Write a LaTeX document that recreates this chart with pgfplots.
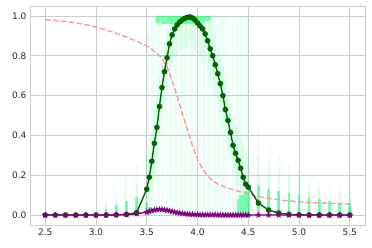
\documentclass[border=0pt]{standalone}
\usepackage{pgfplots}
\pgfplotsset{compat=1.18}
\usepackage{pgfplotstable}
\usepackage{fontspec}
\setmainfont{DejaVu Sans}

\definecolor{gridgray}{RGB}{204,204,204}
\definecolor{tickgray}{RGB}{38,38,38}
\definecolor{sgreen}{RGB}{0,255,100}
\definecolor{dgreen}{RGB}{0,100,0}
\definecolor{mpurple}{RGB}{128,0,128}
\definecolor{lred}{RGB}{255,153,153}

\pgfdeclareplotmark{fstar}{%
  \pgfpathmoveto{\pgfqpoint{0pt}{\pgfplotmarksize}}%
  \pgfpathlineto{\pgfqpoint{-0.2245\pgfplotmarksize}{0.309\pgfplotmarksize}}%
  \pgfpathlineto{\pgfqpoint{-0.951\pgfplotmarksize}{0.309\pgfplotmarksize}}%
  \pgfpathlineto{\pgfqpoint{-0.363\pgfplotmarksize}{-0.118\pgfplotmarksize}}%
  \pgfpathlineto{\pgfqpoint{-0.588\pgfplotmarksize}{-0.809\pgfplotmarksize}}%
  \pgfpathlineto{\pgfqpoint{0pt}{-0.382\pgfplotmarksize}}%
  \pgfpathlineto{\pgfqpoint{0.588\pgfplotmarksize}{-0.809\pgfplotmarksize}}%
  \pgfpathlineto{\pgfqpoint{0.363\pgfplotmarksize}{-0.118\pgfplotmarksize}}%
  \pgfpathlineto{\pgfqpoint{0.951\pgfplotmarksize}{0.309\pgfplotmarksize}}%
  \pgfpathlineto{\pgfqpoint{0.2245\pgfplotmarksize}{0.309\pgfplotmarksize}}%
  \pgfpathclose\pgfusepathqfillstroke}

% main curves: x, green mean, purple mean
\pgfplotstableread{
x g p
2.5 0.0 0.0
2.6 0.0 0.0
2.7 0.0 0.0
2.8 0.0 0.0
2.9 0.0 0.0
3.0 0.0 0.0
3.1 0.0 0.0
3.2 0.001 0.001
3.3 0.003 0.002
3.4 0.012 0.006
3.5 0.13 0.015
3.525 0.19 0.019
3.55 0.27 0.022
3.575 0.36 0.025
3.6 0.44 0.027
3.625 0.545 0.028
3.65 0.64 0.028
3.675 0.72 0.026
3.7 0.79 0.024
3.725 0.86 0.021
3.75 0.905 0.018
3.775 0.935 0.015
3.8 0.955 0.012
3.825 0.97 0.010
3.85 0.98 0.008
3.875 0.988 0.006
3.9 0.993 0.005
3.925 0.995 0.004
3.95 0.99 0.003
3.975 0.98 0.002
4.0 0.965 0.002
4.025 0.95 0.001
4.05 0.935 0.001
4.075 0.91 0.001
4.1 0.875 0.001
4.125 0.835 0.001
4.15 0.80 0.001
4.175 0.755 0.001
4.2 0.71 0.001
4.225 0.66 0.0
4.25 0.60 0.0
4.275 0.53 0.0
4.3 0.475 0.0
4.325 0.415 0.0
4.35 0.35 0.0
4.375 0.31 0.0
4.4 0.275 0.0
4.425 0.235 0.0
4.45 0.19 0.0
4.475 0.155 0.0
4.5 0.14 0.0
4.6 0.06 0.0
4.7 0.025 0.0
4.8 0.01 0.0
4.9 0.003 0.0
5.0 0.001 0.0
5.1 0.0 0.0
5.2 0.0 0.0
5.3 0.0 0.0
5.4 0.0 0.0
5.5 0.0 0.0
}\maindata

% red dashed curve
\pgfplotstableread{
x r
2.5 0.981
2.6 0.977
2.7 0.972
2.8 0.965
2.9 0.956
3.0 0.944
3.1 0.930
3.2 0.913
3.3 0.894
3.4 0.873
3.5 0.850
3.55 0.833
3.6 0.812
3.65 0.787
3.7 0.745
3.75 0.675
3.8 0.595
3.85 0.510
3.9 0.430
3.95 0.350
4.0 0.280
4.05 0.232
4.1 0.197
4.15 0.172
4.2 0.156
4.3 0.135
4.4 0.120
4.5 0.106
4.6 0.093
4.7 0.084
4.8 0.077
4.9 0.071
5.0 0.067
5.1 0.064
5.2 0.061
5.3 0.059
5.4 0.057
5.5 0.056
}\reddata

% faint spread of the samples: x, low, high
\pgfplotstableread{
x lo hi
3.1 0 0.08
3.2 0 0.12
3.3 0 0.20
3.4 0 0.25
3.5 0 0.95
3.525 0 1
3.55 0 1
3.575 0 1
3.6 0 1
3.625 0 1
3.65 0 1
3.675 0 1
3.7 0 1
3.725 0 1
3.75 0 1
3.775 0 1
3.8 0 1
3.825 0 1
3.85 0 1
3.875 0 1
3.9 0 1
3.925 0 1
3.95 0 1
3.975 0 1
4.0 0 1
4.025 0 1
4.05 0 1
4.075 0 1
4.1 0 1
4.125 0 1
4.15 0 1
4.175 0 1
4.2 0 1
4.225 0 1
4.25 0 1
4.275 0 1
4.3 0 1
4.325 0 1
4.35 0 1
4.375 0 1
4.4 0 1
4.425 0 1
4.45 0 1
4.475 0 1
4.5 0 1
4.6 0 0.45
4.7 0 0.35
4.8 0 0.30
4.9 0 0.25
5.0 0 0.22
5.1 0 0.20
5.2 0 0.18
5.3 0 0.16
5.4 0 0.15
5.5 0 0.14
}\faintdata

% denser band of the samples around the mean
\pgfplotstableread{
x lo hi
3.1 0 0.05
3.2 0 0.08
3.3 0 0.12
3.4 0 0.16
3.5 0 0.28
3.525 0.04 0.34
3.55 0.12 0.42
3.575 0.21 0.51
3.6 0.29 0.59
3.625 0.395 0.695
3.65 0.49 0.79
3.675 0.57 0.87
3.7 0.64 0.94
3.725 0.71 1
3.75 0.755 1
3.775 0.785 1
3.8 0.805 1
3.825 0.82 1
3.85 0.83 1
3.875 0.84 1
3.9 0.84 1
3.925 0.845 1
3.95 0.84 1
3.975 0.83 1
4.0 0.815 1
4.025 0.80 1
4.05 0.785 1
4.075 0.76 1
4.1 0.725 1
4.125 0.685 0.985
4.15 0.65 0.95
4.175 0.605 0.905
4.2 0.56 0.86
4.225 0.51 0.81
4.25 0.45 0.75
4.275 0.38 0.68
4.3 0.325 0.625
4.325 0.265 0.565
4.35 0.2 0.5
4.375 0.16 0.46
4.4 0.125 0.425
4.425 0.085 0.385
4.45 0.04 0.34
4.475 0.005 0.305
4.5 0 0.29
4.6 0 0.30
4.7 0 0.25
4.8 0 0.22
4.9 0 0.20
5.0 0 0.17
5.1 0 0.15
5.2 0 0.13
5.3 0 0.12
5.4 0 0.11
5.5 0 0.10
}\densedata

% brightest clusters (saturated samples)
\pgfplotstableread{
x lo hi
3.1 0 0.03
3.2 0 0.05
3.3 0 0.07
3.4 0 0.09
3.5 0 0.06
3.525 0 0.04
3.6 0.965 1
3.625 0.965 1
3.65 0.96 1
3.675 0.96 1
3.7 0.96 1
3.725 0.96 1
3.75 0.96 1
3.775 0.96 1
3.8 0.96 1
3.825 0.96 1
3.85 0.96 1
3.875 0.96 1
3.9 0.96 1
3.925 0.96 1
3.95 0.96 1
3.975 0.96 1
4.0 0.96 1
4.025 0.965 1
4.05 0.965 1
4.075 0.97 1
4.1 0.975 1
4.125 0.98 1
4.4 0 0.08
4.425 0 0.1
4.45 0 0.1
4.475 0 0.12
4.5 0 0.12
4.6 0 0.15
4.7 0 0.13
4.8 0 0.12
4.9 0 0.11
5.0 0 0.10
5.1 0 0.09
5.2 0 0.08
5.3 0 0.07
5.4 0 0.06
5.5 0 0.06
}\brightdata

\pgfplotsset{
  streak/.style 2 args={draw=none, mark=none, forget plot,
    error bars/.cd, y dir=plus, y explicit, error mark=none,
    error bar style={line width=#2, color=sgreen, opacity=#1}},
}

\begin{document}
\begin{tikzpicture}
\useasboundingbox (-30pt,-23pt) rectangle (342pt,225pt);
\begin{axis}[
  scale only axis, width=335pt, height=219pt,
  xmin=2.35, xmax=5.65, ymin=-0.05, ymax=1.05,
  xtick={2.5,3.0,3.5,4.0,4.5,5.0,5.5},
  ytick={0,0.2,0.4,0.6,0.8,1.0},
  xticklabel style={/pgf/number format/.cd, fixed, fixed zerofill, precision=1},
  yticklabel style={/pgf/number format/.cd, fixed, fixed zerofill, precision=1},
  /pgf/number format/assume math mode=true,
  tick label style={font=\fontsize{9}{11}\selectfont, color=tickgray},
  major tick length=0pt,
  grid=major, grid style={color=gridgray, line width=0.8pt},
  axis line style={color=gridgray, line width=0.8pt},
  clip=true,
]
\addplot+[streak={0.07}{1.9pt}] table[x=x, y=lo, y error plus expr=\thisrow{hi}-\thisrow{lo}] {\faintdata};
\addplot+[streak={0.1}{1.9pt}] table[x=x, y=lo, y error plus expr=\thisrow{hi}-\thisrow{lo}] {\densedata};
\addplot+[streak={0.5}{2.6pt}] table[x=x, y=lo, y error plus expr=\thisrow{hi}-\thisrow{lo}] {\brightdata};
\addplot[color=lred, line width=1.4pt, dash pattern=on 5.5pt off 2.4pt, no marks] table[x=x, y=r] {\reddata};
\addplot[color=dgreen, line width=1.4pt, mark=*, mark size=2.1pt, mark options={fill=dgreen, draw=dgreen}] table[x=x, y=g] {\maindata};
\addplot[color=mpurple, line width=1.4pt, mark=fstar, mark size=3pt, mark options={fill=mpurple, draw=mpurple, line width=0.3pt}] table[x=x, y=p] {\maindata};
\end{axis}
\end{tikzpicture}
\end{document}
